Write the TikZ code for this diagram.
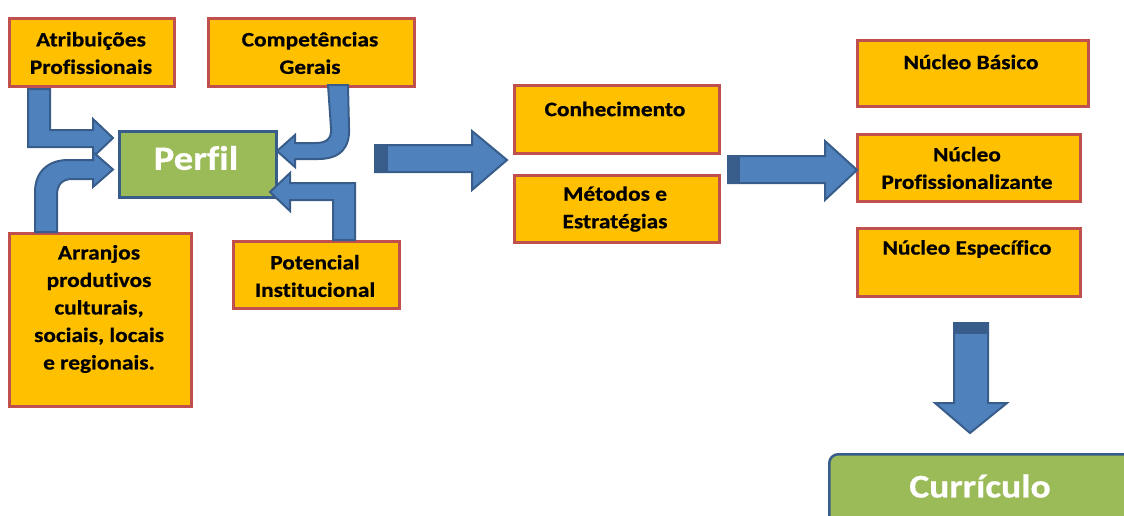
\documentclass[tikz,border=0pt]{standalone}
\usepackage{fontspec}
\setmainfont{Carlito}[FakeStretch=1.14, Ligatures=NoCommon, BoldFeatures={FakeBold=0.6}]
\definecolor{boxyel}{HTML}{FFC000}
\definecolor{boxred}{HTML}{C0504D}
\definecolor{boxgreen}{HTML}{9BBB59}
\definecolor{arrblue}{HTML}{4F81BD}
\definecolor{arrdark}{HTML}{385D8A}
\begin{document}
\begin{tikzpicture}[x=1pt,y=-1pt,
  box/.style={draw=boxred, line width=2.5pt, fill=boxyel, inner sep=0pt, anchor=north west},
  gbox/.style={draw=arrdark, line width=2.5pt, fill=boxgreen, inner sep=0pt, anchor=north west},
  lbl/.style={font=\bfseries\fontsize{20.5}{27.5}\selectfont, align=center, inner sep=0pt},
  big/.style={font=\bfseries\fontsize{34}{40}\selectfont, text=white, inner sep=0pt},
  arr/.style={fill=arrblue, draw=arrdark, line width=2pt, line join=miter},
  tail/.style={fill=arrdark, draw=none}]
\useasboundingbox (0,0) rectangle (1124,515);
\clip (0,0) rectangle (1124,515);

% boxes
\node[box, minimum width=165pt, minimum height=68pt] (atr) at (8,17) {};
\node[box, minimum width=206pt, minimum height=68pt] (comp) at (207,17) {};
\node[box, minimum width=182pt, minimum height=173pt] (arrj) at (8,232) {};
\node[box, minimum width=166pt, minimum height=67pt] (pot) at (232,240) {};
\node[gbox, minimum width=157pt, minimum height=66pt] (perfil) at (118,130) {};
\node[box, minimum width=205pt, minimum height=68pt] (con) at (513,84) {};
\node[box, minimum width=205pt, minimum height=67pt] (met) at (513,174) {};
\node[box, minimum width=231pt, minimum height=66pt] (nb) at (856,39) {};
\node[box, minimum width=223pt, minimum height=67pt] (np) at (856,133) {};
\node[box, minimum width=223pt, minimum height=68pt] (ne) at (856,227) {};
\node[gbox, rounded corners=9pt, minimum width=320pt, minimum height=90pt] (cur) at (828,453) {};

% texts
\node[lbl] (tatr) at (91,53) {Atribuições\\Profissionais};
\node[lbl] (tcomp) at (310,53) {Competências\\Gerais};
\node[lbl] (tarrj) at (99,309) {Arranjos\\produtivos\\culturais,\\sociais, locais\\e regionais.};
\node[lbl] (tpot) at (315,276) {Potencial\\Institucional};
\node[big] (tperfil) at (196,158) {Perfil};
\node[lbl] (tcon) at (615,109) {Conhecimento};
\node[lbl] (tmet) at (615,209) {Métodos e\\Estratégias};
\node[lbl] (tnb) at (971,62) {Núcleo Básico};
\node[lbl] (tnp) at (967,168) {Núcleo\\Profissionalizante};
\node[lbl] (tne) at (967,249) {Núcleo Específico};
\node[big, font=\bfseries\fontsize{33}{40}\selectfont] (tcur) at (980,486) {Currículo};

% bent arrows into Perfil
\draw[arr] (28,89) -- (50,89) -- (50,130) -- (93,130) -- (93,119) -- (113,138)
  -- (93,157) -- (93,147) -- (28,147) -- cycle;
\draw[arr] (35,232) -- (35,192) .. controls (35,172) and (48,160) .. (68,160)
  -- (93,160) -- (93,152) -- (113,169.5) -- (93,187) -- (93,179) -- (72,179)
  .. controls (62,179) and (57,185) .. (57,195) -- (57,232) -- cycle;
\draw[arr] (328,85) -- (331,128) .. controls (332,139) and (326,143) .. (316,143)
  -- (295,143) -- (295,135) -- (277,151) -- (295,167) -- (295,159) -- (318,159)
  .. controls (340,159) and (350,148) .. (349,128) -- (348,85) -- cycle;
\draw[arr] (333,240) -- (333,200) -- (290,200) -- (290,211) -- (270,192)
  -- (290,173) -- (290,183) -- (355,183) -- (355,240) -- cycle;

% straight arrows
\draw[arr] (375,145) -- (472,145) -- (472,131) -- (507,160) -- (472,190)
  -- (472,172) -- (375,172) -- cycle;
\fill[tail] (374,144) rectangle (388,173);
\draw[arr] (728,156) -- (825,156) -- (825,141) -- (857,170) -- (825,200)
  -- (825,183) -- (728,183) -- cycle;
\fill[tail] (727,155) rectangle (740,184);
\draw[arr] (954,323) -- (988,323) -- (988,403) -- (1007,403) -- (970,433)
  -- (935,403) -- (954,403) -- cycle;
\fill[tail] (953,322) rectangle (989,334);
\end{tikzpicture}
\end{document}
